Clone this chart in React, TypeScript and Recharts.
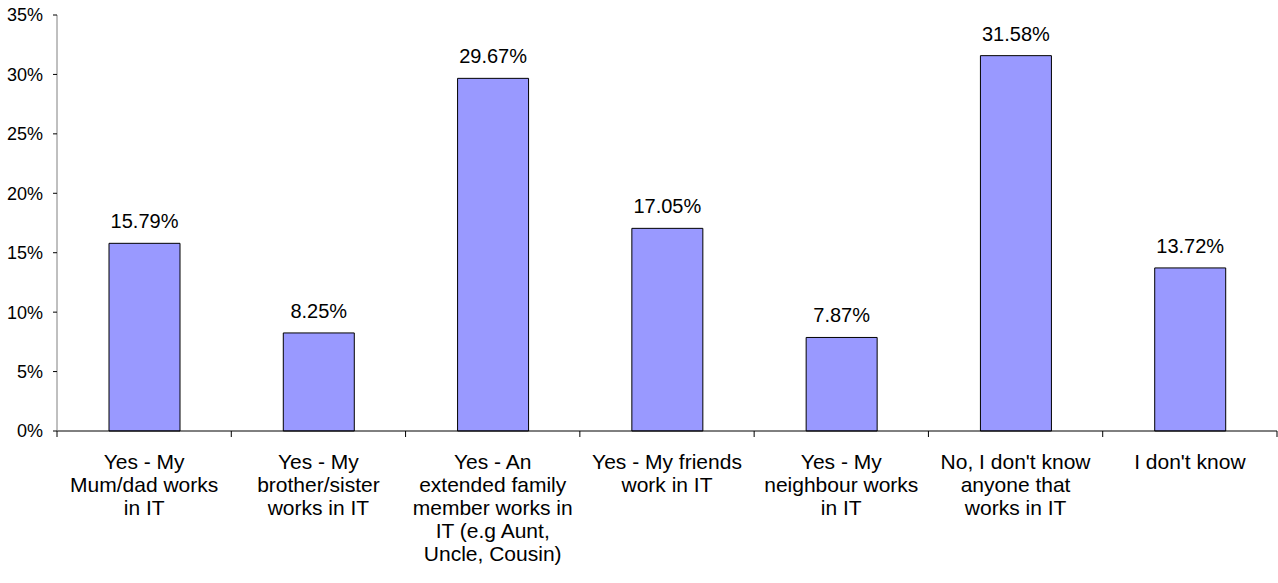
import React from 'react';
import { BarChart, Bar, XAxis, YAxis, LabelList } from 'recharts';

const categories = [
  'Yes - My\nMum/dad works\nin IT',
  'Yes - My\nbrother/sister\nworks in IT',
  'Yes - An\nextended family\nmember works in\nIT (e.g Aunt,\nUncle, Cousin)',
  'Yes - My friends\nwork in IT',
  'Yes - My\nneighbour works\nin IT',
  "No, I don't know\nanyone that\nworks in IT",
  "I don't know",
];
const shares = [15.79, 8.25, 29.67, 17.05, 7.87, 31.58, 13.72];
const yTicks = [0, 5, 10, 15, 20, 25, 30, 35];

const data = categories.map((name, i) => ({ name, value: shares[i] }));

const FONT = "Arial, 'Liberation Sans', sans-serif";
const TICK_SIZE = 6;

const CategoryTick = (props: any) => {
  const { x, y, payload, index, width } = props;
  const band = width / categories.length;
  const axisY = y - TICK_SIZE;
  const lines = String(payload.value).split('\n');
  return (
    <g>
      <line x1={x - band / 2} y1={axisY} x2={x - band / 2} y2={axisY + TICK_SIZE} stroke="#000" />
      {index === categories.length - 1 && (
        <line x1={x + band / 2} y1={axisY} x2={x + band / 2} y2={axisY + TICK_SIZE} stroke="#000" />
      )}
      <text x={x} y={y + 32} textAnchor="middle" fontSize={21} fontFamily={FONT} fill="#000">
        {lines.map((ln, i) => (
          <tspan key={i} x={x} dy={i === 0 ? 0 : 23}>{ln}</tspan>
        ))}
      </text>
    </g>
  );
};

const ValueLabel = (props: any) => {
  const { x, y, width, value } = props;
  return (
    <text x={x + width / 2} y={y - 15} textAnchor="middle" fontSize={20} fontFamily={FONT} fill="#000">
      {`${Number(value).toFixed(2)}%`}
    </text>
  );
};

export default function App() {
  return (
    <div style={{ position: 'absolute', left: 0, top: 0, background: '#fff' }}>
      <BarChart
        width={1278}
        height={583}
        data={data}
        margin={{ top: 15, right: 1, left: 0, bottom: 0 }}
      >
        <XAxis
          dataKey="name"
          interval={0}
          height={152}
          tickLine={false}
          tickSize={TICK_SIZE}
          tickMargin={0}
          axisLine={{ stroke: '#000' }}
          tick={<CategoryTick />}
        />
        <YAxis
          width={57}
          domain={[0, 35]}
          ticks={yTicks}
          tickFormatter={(v) => `${v}%`}
          tickSize={4}
          tickMargin={10}
          axisLine={{ stroke: '#808080' }}
          tickLine={{ stroke: '#000' }}
          tick={{ fontSize: 18, fontFamily: FONT, fill: '#000' }}
        />
        <Bar dataKey="value" fill="#9999FF" stroke="#000" strokeWidth={1} barSize={71} isAnimationActive={false}>
          <LabelList dataKey="value" content={<ValueLabel />} />
        </Bar>
      </BarChart>
    </div>
  );
}
